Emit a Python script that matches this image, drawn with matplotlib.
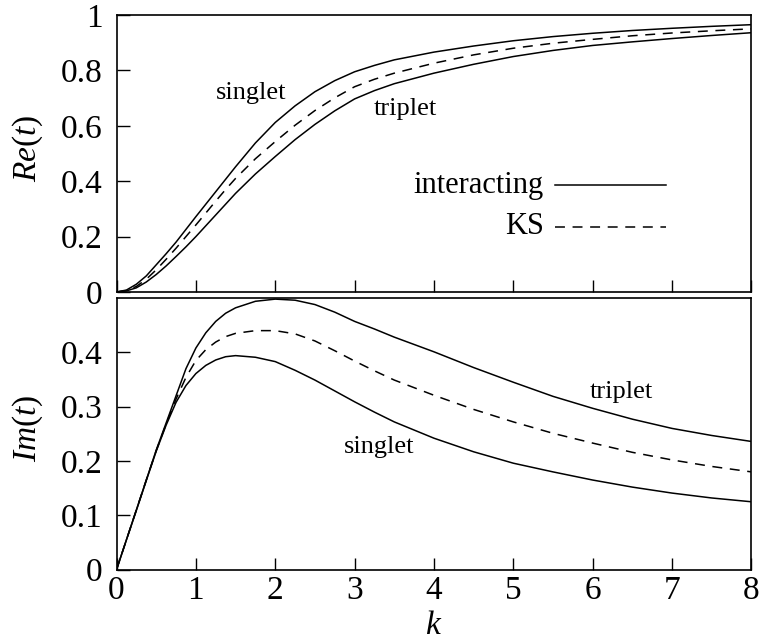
import matplotlib
matplotlib.use("Agg")
import matplotlib.pyplot as plt

plt.rcParams.update({
    'font.family': 'serif',
    'font.serif': ['Liberation Serif', 'DejaVu Serif'],
    'mathtext.fontset': 'custom',
    'mathtext.it': 'Liberation Serif:italic',
    'mathtext.rm': 'Liberation Serif',
    'axes.linewidth': 1.2,
    'xtick.direction': 'in',
    'ytick.direction': 'in',
    'xtick.major.size': 9,
    'ytick.major.size': 9,
    'xtick.major.width': 1.0,
    'ytick.major.width': 1.0,
})

# momentum grid
k = [0.0, 0.125, 0.25, 0.375, 0.5, 0.625, 0.75, 0.875, 1.0, 1.125, 1.25,
     1.375, 1.5, 1.75, 2.0, 2.25, 2.5, 2.75, 3.0, 3.25, 3.5, 4.0, 4.5, 5.0,
     5.5, 6.0, 6.5, 7.0, 7.5, 8.0]

# real part of transmission amplitude
re_singlet = [0.0, 0.007, 0.028, 0.058, 0.098, 0.138, 0.18, 0.226, 0.272,
              0.317, 0.362, 0.407, 0.452, 0.538, 0.612, 0.672, 0.723, 0.763,
              0.795, 0.818, 0.838, 0.866, 0.888, 0.907, 0.922, 0.934, 0.944,
              0.952, 0.959, 0.965]
re_ks = [0.0, 0.005, 0.02, 0.046, 0.08, 0.118, 0.158, 0.2, 0.242, 0.285,
         0.328, 0.37, 0.41, 0.481, 0.543, 0.602, 0.655, 0.701, 0.741, 0.768,
         0.79, 0.826, 0.856, 0.88, 0.898, 0.912, 0.925, 0.935, 0.943, 0.95]
re_triplet = [0.0, 0.004, 0.015, 0.036, 0.063, 0.094, 0.128, 0.163, 0.20,
              0.239, 0.278, 0.317, 0.356, 0.426, 0.489, 0.55, 0.605, 0.654,
              0.697, 0.727, 0.752, 0.79, 0.822, 0.85, 0.872, 0.89, 0.903,
              0.915, 0.926, 0.936]

# imaginary part of transmission amplitude
im_triplet = [0.0, 0.055, 0.11, 0.165, 0.22, 0.27, 0.32, 0.37, 0.408, 0.436,
              0.457, 0.472, 0.482, 0.494, 0.498, 0.496, 0.488, 0.474, 0.457,
              0.443, 0.428, 0.401, 0.372, 0.345, 0.319, 0.297, 0.277, 0.260,
              0.247, 0.236]
im_ks = [0.0, 0.055, 0.11, 0.165, 0.219, 0.268, 0.314, 0.354, 0.385, 0.405,
         0.419, 0.429, 0.435, 0.440, 0.440, 0.434, 0.421, 0.403, 0.384, 0.366,
         0.349, 0.321, 0.295, 0.272, 0.251, 0.233, 0.216, 0.202, 0.190, 0.180]
im_singlet = [0.0, 0.055, 0.109, 0.164, 0.218, 0.266, 0.308, 0.339, 0.361,
              0.376, 0.386, 0.392, 0.394, 0.391, 0.383, 0.367, 0.349, 0.329,
              0.309, 0.29, 0.272, 0.242, 0.217, 0.196, 0.18, 0.165, 0.152,
              0.141, 0.132, 0.125]

fig = plt.figure(figsize=(7.64, 6.43), dpi=100)
ax1 = fig.add_axes([0.1525, 0.5459, 0.8311, 0.4308])
ax2 = fig.add_axes([0.1525, 0.114, 0.8311, 0.4225])

lw = 1.1
dash = (6.5, 5)
ax1.plot(k, re_singlet, 'k-', lw=lw)
ax1.plot(k, re_ks, 'k--', lw=lw, dashes=dash)
ax1.plot(k, re_triplet, 'k-', lw=lw)

ax2.plot(k, im_triplet, 'k-', lw=lw)
ax2.plot(k, im_ks, 'k--', lw=lw, dashes=dash)
ax2.plot(k, im_singlet, 'k-', lw=lw)

ax1.set_xlim(0, 8)
ax1.set_ylim(0, 1)
ax2.set_xlim(0, 8)
ax2.set_ylim(0, 0.5)

ax1.set_yticks([0, 0.2, 0.4, 0.6, 0.8, 1])
ax1.set_yticklabels(['0', '0.2', '0.4', '0.6', '0.8', '1'])
ax1.set_xticks(range(9))
ax1.set_xticklabels([])
ax2.set_yticks([0, 0.1, 0.2, 0.3, 0.4])
ax2.set_yticklabels(['0', '0.1', '0.2', '0.3', '0.4'])
ax2.set_xticks(range(9))

for ax in (ax1, ax2):
    ax.tick_params(axis='y', labelsize=24, pad=10)
    ax.tick_params(axis='x', labelsize=24, pad=4)

ax1.set_ylabel(r'$Re(t)$', fontsize=24)
ax2.set_ylabel(r'$Im(t)$', fontsize=24)
ax1.yaxis.set_label_coords(-0.113, 0.52)
ax2.yaxis.set_label_coords(-0.113, 0.52)
ax2.set_xlabel(r'$k$', fontsize=24)
ax2.xaxis.set_label_coords(0.5, -0.15)

# curve labels
ax1.text(1.70, 0.718, 'singlet', fontsize=19, ha='center', va='center')
ax1.text(3.64, 0.66, 'triplet', fontsize=19, ha='center', va='center')
ax2.text(6.36, 0.327, 'triplet', fontsize=19, ha='center', va='center')
ax2.text(3.31, 0.225, 'singlet', fontsize=19, ha='center', va='center')

# hand-made legend: label to the left of the sample line
ax1.text(5.38, 0.386, 'interacting', fontsize=22, ha='right', va='center')
ax1.plot([5.53, 6.92], [0.386, 0.386], 'k-', lw=lw)
ax1.text(5.38, 0.236, 'KS', fontsize=22, ha='right', va='center')
ax1.plot([5.53, 6.92], [0.236, 0.236], 'k--', lw=lw, dashes=dash)

fig.savefig('out.png', dpi=100)
